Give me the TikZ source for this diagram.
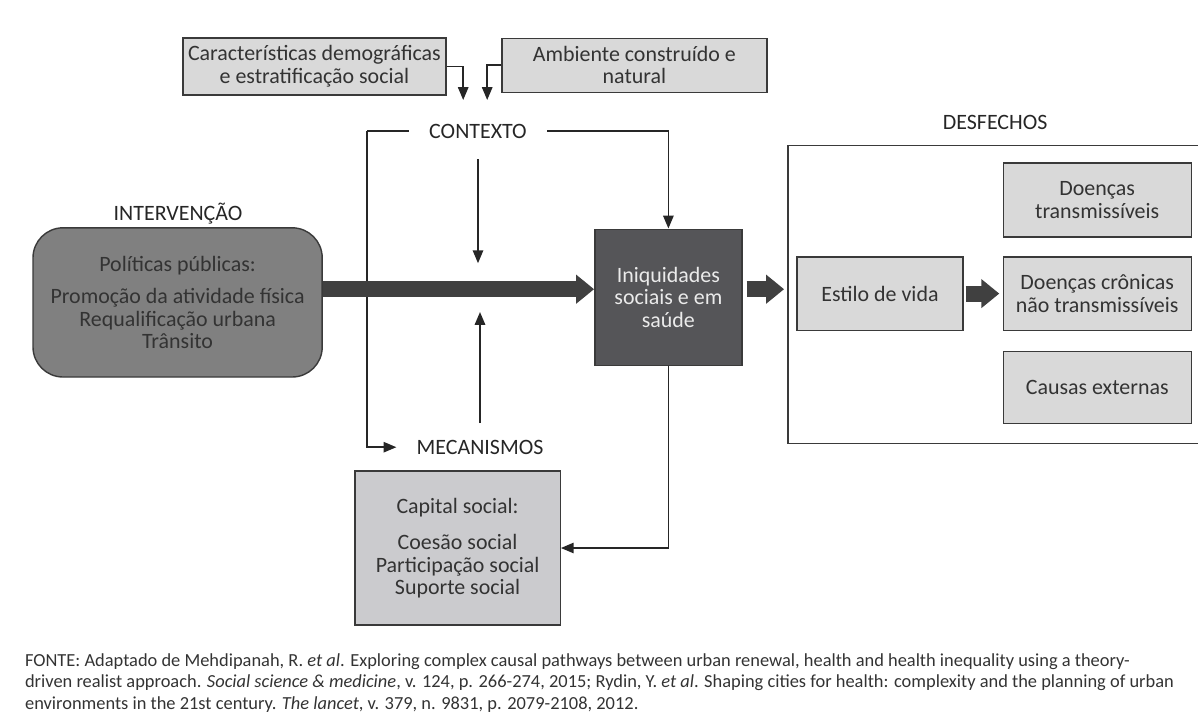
\documentclass[tikz,border=0pt]{standalone}
\usepackage{fontspec}
\setmainfont{Carlito}
\usetikzlibrary{positioning,arrows.meta,calc}
\definecolor{boxgray}{HTML}{D9D9D9}
\definecolor{capgray}{HTML}{CBCBCE}
\definecolor{midgray}{HTML}{808080}
\definecolor{darkbox}{HTML}{555558}
\definecolor{edgegray}{HTML}{3A3A3A}
\definecolor{txtgray}{HTML}{333333}
\definecolor{arrowgray}{HTML}{404040}
\newcommand{\diagfont}{\fontsize{15.6}{16}\selectfont}
\newcommand{\notefont}{\fontsize{13.1}{15.3}\selectfont}
\tikzset{
  lightbox/.style={draw=edgegray, fill=boxgray, line width=1pt, align=center, text=txtgray, font=\diagfont, inner sep=1pt},
  capbox/.style={lightbox, fill=capgray},
  intbox/.style={lightbox, fill=midgray, rounded corners=0.75cm},
  darkbox/.style={draw=edgegray, fill=darkbox, line width=1pt, align=center, text=white!92!black, font=\diagfont},
  frame/.style={draw=edgegray, line width=1pt},
  heading/.style={font=\diagfont, text=black!85},
  flowlabel/.style={heading, inner xsep=0.5cm},
  thin/.style={-{Triangle[length=0.32cm,width=0.26cm]}, line width=1.1pt, draw=black!85},
  plainline/.style={line width=1.1pt, draw=black!85},
  bigarrow/.style={-{Triangle[length=0.45cm,width=0.7cm]}, line width=0.4cm, draw=arrowgray},
  footer/.style={font=\notefont, text=txtgray, align=left, inner sep=0pt},
}

\begin{document}
\begin{tikzpicture}
  \useasboundingbox (0,0) rectangle (29.95,-17.975);

  % context boxes
  \node[lightbox, minimum width=6.58cm, minimum height=1.43cm] (demo) at (7.86,-1.66) {Características demográficas\\e estratificação social};
  \node[lightbox, minimum width=6.63cm, minimum height=1.35cm] (amb) at (15.86,-1.63) {Ambiente construído e\\natural};
  \node[flowlabel] (ctx) at (11.95,-3.28) {CONTEXTO};
  \coordinate (ctxin1) at (11.58,-2.5);
  \coordinate (ctxin2) at (12.18,-2.5);

  % intervention
  \node[heading] (intlabel) at (4.45,-5.33) {INTERVENÇÃO};
  \node[intbox, minimum width=7.23cm, minimum height=3.73cm] (interv) at (4.44,-7.56) {Políticas públicas:\\[7pt]Promoção da atividade física\\Requalificação urbana\\Trânsito};

  % central node
  \node[darkbox, minimum width=3.68cm, minimum height=3.4cm] (iniq) at (16.71,-7.43) {Iniquidades\\sociais e em\\saúde};
  \coordinate (mainaxis) at (0,-7.23);

  % mechanisms
  \node[flowlabel] (mec) at (12.0,-11.18) {MECANISMOS};
  \node[capbox, minimum width=5.13cm, minimum height=3.85cm] (capital) at (11.44,-13.7) {Capital social:\\[10pt]Coesão social\\Participação social\\Suporte social};

  % outcomes
  \node[heading] (desf) at (24.88,-3.05) {DESFECHOS};
  \node[frame, minimum width=10.6cm, minimum height=7.45cm] (outframe) at (25.0,-7.355) {};
  \node[lightbox, minimum width=4.15cm, minimum height=1.83cm] (estilo) at (22.0,-7.34) {Estilo de vida};
  \node[lightbox, minimum width=4.7cm, minimum height=1.85cm] (dtrans) at (27.43,-5.0) {Doenças\\transmissíveis};
  \node[lightbox, minimum width=4.7cm, minimum height=1.83cm] (dcron) at (27.43,-7.34) {Doenças crônicas\\não transmissíveis};
  \node[lightbox, minimum width=4.7cm, minimum height=1.8cm] (causas) at (27.43,-9.68) {Causas externas};

  % connectors
  \draw[thin] (demo.east) -| (ctxin1);
  \draw[thin] (amb.west) -| (ctxin2);
  \draw[plainline] (ctx.west) -- (9.18,-3.28) coordinate (ctxcorner);
  \draw[thin] (ctxcorner) |- (mec.west);
  \draw[thin] (ctx.east) -| (iniq.north);
  \draw[thin, shorten <=0.4cm] (ctx.south) -- (ctx.south |- 0,-6.58);
  \draw[thin, shorten <=0.3cm] (mec.north) -- (mec.north |- 0,-7.8);
  \draw[bigarrow] (interv.east |- mainaxis) -- (iniq.west |- mainaxis);
  \draw[bigarrow, shorten <=0.1cm, shorten >=0.08cm] (iniq.east |- mainaxis) -- (outframe.west |- mainaxis);
  \draw[bigarrow, shorten <=0.05cm, shorten >=0.08cm] (estilo.east) -- (dcron.west);
  \draw[thin] (iniq.south) |- (capital.east);

  % source note
  \node[footer, anchor=north west] (fonte) at (0.62,-16.33) {FONTE: Adaptado de Mehdipanah, R. \textit{et al}. Exploring complex causal pathways between urban renewal, health and health inequality using a theory-\\driven realist approach. \textit{Social science \& medicine}, v. 124, p. 266-274, 2015; Rydin, Y. \textit{et al}. Shaping cities for health: complexity and the planning of urban\\environments in the 21st century. \textit{The lancet}, v. 379, n. 9831, p. 2079-2108, 2012.};
\end{tikzpicture}
\end{document}
